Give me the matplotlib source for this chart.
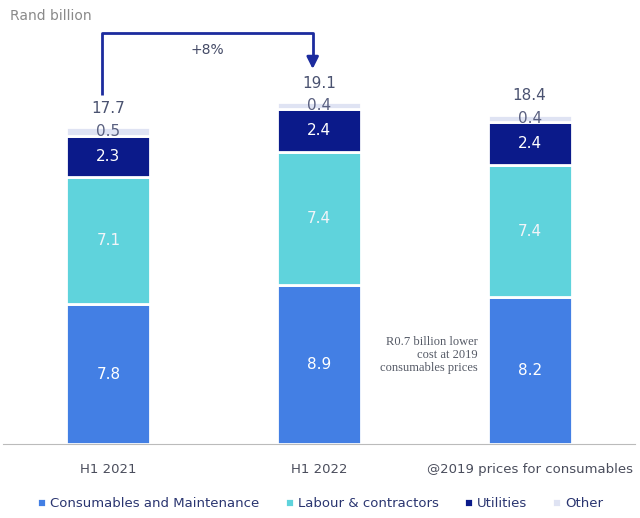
import matplotlib.pyplot as plt
import numpy as np

categories = ["H1 2021", "H1 2022", "@2019 prices for consumables"]
consumables = [7.8, 8.9, 8.2]
labour = [7.1, 7.4, 7.4]
utilities = [2.3, 2.4, 2.4]
other = [0.5, 0.4, 0.4]
totals = [17.7, 19.1, 18.4]
series_names = ["Consumables and Maintenance", "Labour & contractors", "Utilities", "Other"]

colors = ["#437fe4", "#5fd3dc", "#0b1a8a", "#dfe3f3"]
label_colors = ["white", "#f2f4f8", "white", "#5a6080"]

fig = plt.figure(figsize=(6.4, 5.18), dpi=100)
ax = fig.add_axes([3 / 640, 74 / 518, 632 / 640, 434 / 518])

x = np.arange(len(categories))
w = 0.4
bottom = np.zeros(len(categories))
for vals, col, lc, name in zip([consumables, labour, utilities, other], colors, label_colors, series_names):
    ax.bar(x, vals, w, bottom=bottom, color=col, edgecolor="white", linewidth=2, label=name)
    for xi, b, v in zip(x, bottom, vals):
        ax.text(xi, b + v / 2, f"{v}", ha="center", va="center", color=lc, fontsize=11)
    bottom += np.array(vals)

for xi, t in zip(x, totals):
    ax.text(xi, t + 0.65, f"{t}", ha="center", va="bottom", color="#4a5270", fontsize=11)

# growth arrow between first two bars
xa, xb = x[0] - 0.03, x[1] - 0.03
y0 = 19.5
ytop = 22.95
ytip = 20.8
ax.plot([xa, xa, xb, xb], [y0, ytop, ytop, ytip + 0.6], color="#1c2b9e", lw=2, solid_capstyle="butt")
ax.annotate("", xy=(xb, ytip), xytext=(xb, ytip + 0.8),
            arrowprops=dict(arrowstyle="-|>,head_width=0.35,head_length=0.7", color="#1c2b9e", lw=2))
ax.text((xa + xb) / 2, 22.0, "+8%", ha="center", va="center", color="#444a66", fontsize=10)

ax.text(x[2] - 0.246, 4.97, "R0.7 billion lower\ncost at 2019\nconsumables prices", ha="right", va="center",
        color="#555a66", fontsize=9, family="Liberation Serif", linespacing=1.1)

ax.set_xlim(-0.5, 2.5)
ax.set_ylim(0, 24.25)
ax.set_xticks(x)
ax.set_xticklabels(categories, color="#4a4d5c", fontsize=9.5)
ax.tick_params(axis="x", length=0, pad=14)
ax.set_yticks([])
for s in ["top", "right", "left"]:
    ax.spines[s].set_visible(False)
ax.spines["bottom"].set_color("#bbbbbb")

fig.text(10 / 640, 1 - 16 / 518, "Rand billion", color="#8a8a8a", fontsize=10, va="center")

leg = ax.legend(loc="center left", bbox_to_anchor=(0.035, -0.138), ncol=4, frameon=False,
                fontsize=9.5, handlelength=0.7, handleheight=0.7, handletextpad=0.3, columnspacing=1.9)
for t in leg.get_texts():
    t.set_color("#2a3570")

fig.savefig("out.png", dpi=100)
